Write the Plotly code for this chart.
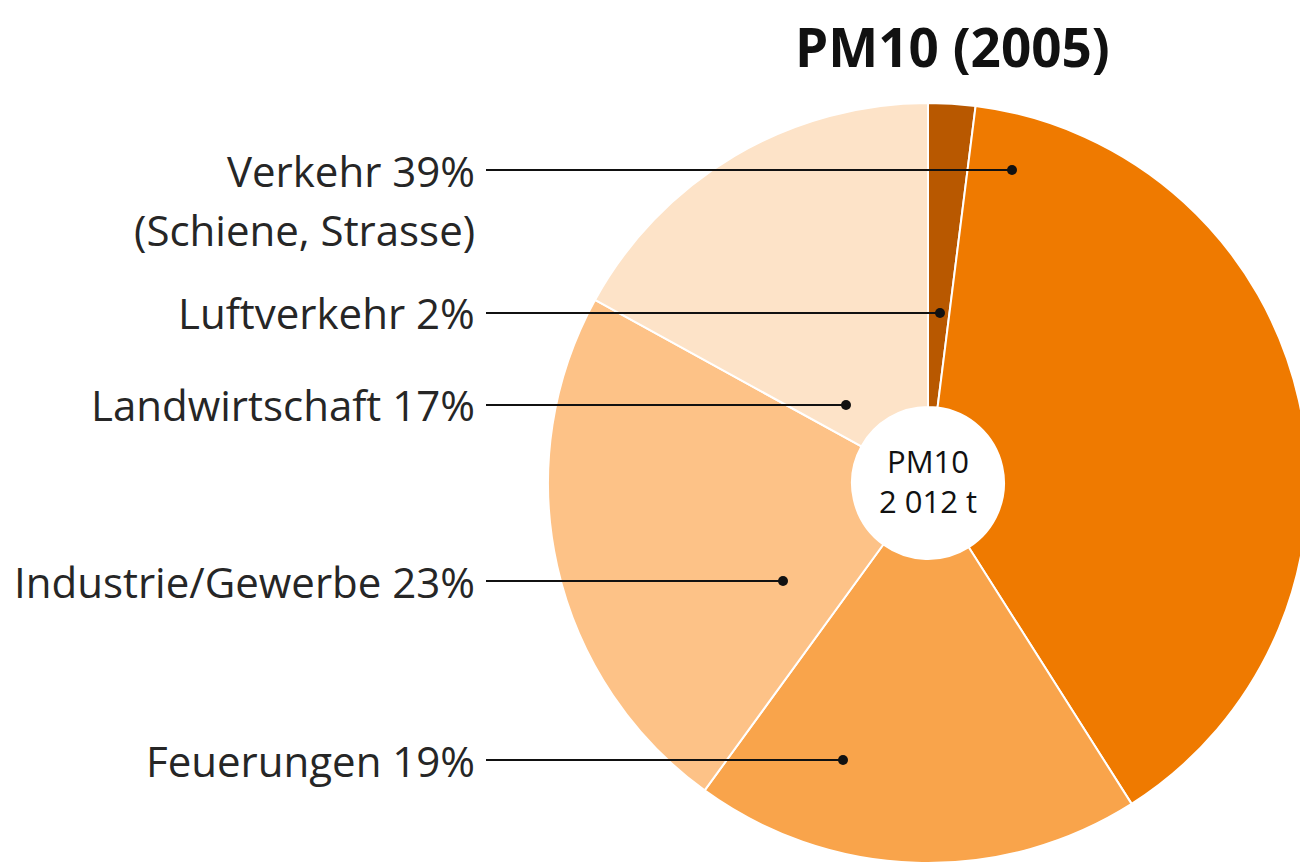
import plotly.graph_objects as go

categories = ["Luftverkehr", "Verkehr", "Feuerungen", "Industrie/Gewerbe", "Landwirtschaft"]
values = [2, 39, 19, 23, 17]
colors = ["#b85800", "#ef7a00", "#f9a44b", "#fdc287", "#fde3c8"]

label_texts = ["Luftverkehr 2%", "Verkehr 39%", "Feuerungen 19%", "Industrie/Gewerbe 23%", "Landwirtschaft 17%"]
# leader positions in screen pixels (label line y, dot x)
label_y_px = [313, 170, 760, 581, 405]
dot_x_px = [940, 1012, 843, 783, 846]

OFF = 8  # page body margin
W, H = 1300, 855
cx, cy, R = 928 - OFF, 483 - OFF, 380

fig = go.Figure()
fig.add_trace(go.Pie(
    labels=categories, values=values, sort=False, direction="clockwise", rotation=0,
    hole=0.2, textinfo="none", hoverinfo="label+percent",
    marker=dict(colors=colors, line=dict(color="white", width=2)),
    domain=dict(x=[max(0, (cx - R) / W), min(1, (cx + R) / W)],
                y=[max(0, 1 - (cy + R) / H), min(1, 1 - (cy - R) / H)]),
    showlegend=False,
))

def px(x):
    return (x - OFF) / W

def py(y):
    return 1 - (y - OFF) / H

shapes = []
annotations = []
font_fam = "Open Sans, Noto Sans, sans-serif"
LS = 42
for txt, ly, dx in zip(label_texts, label_y_px, dot_x_px):
    shapes.append(dict(type="line", xref="paper", yref="paper", x0=px(486), x1=px(dx), y0=py(ly), y1=py(ly),
                       line=dict(color="#111111", width=2)))
    r = 5
    shapes.append(dict(type="circle", xref="paper", yref="paper", x0=px(dx - r), x1=px(dx + r),
                       y0=py(ly + r), y1=py(ly - r), fillcolor="#111111", line=dict(width=0)))
    annotations.append(dict(text=txt, xref="paper", yref="paper", x=px(477), y=py(ly), xanchor="right",
                            yanchor="middle", showarrow=False, font=dict(family=font_fam, size=LS, color="#262626")))

annotations.append(dict(text="(Schiene, Strasse)", xref="paper", yref="paper", x=px(477), y=py(229), xanchor="right",
                        yanchor="middle", showarrow=False, font=dict(family=font_fam, size=LS, color="#262626")))
annotations.append(dict(text="<b>PM10 (2005)</b>", xref="paper", yref="paper", x=px(952), y=1.0, xanchor="center",
                        yanchor="top", showarrow=False, font=dict(family=font_fam, size=53, color="#111111")))
annotations.append(dict(text="PM10<br>2 012 t", xref="paper", yref="paper", x=px(928), y=py(481), xanchor="center",
                        yanchor="middle", showarrow=False, font=dict(family=font_fam, size=31, color="#111111")))

fig.update_layout(
    width=W, height=H, margin=dict(l=0, r=0, t=0, b=0),
    paper_bgcolor="white", plot_bgcolor="white",
    shapes=shapes, annotations=annotations,
)
fig.write_html("out.html")
